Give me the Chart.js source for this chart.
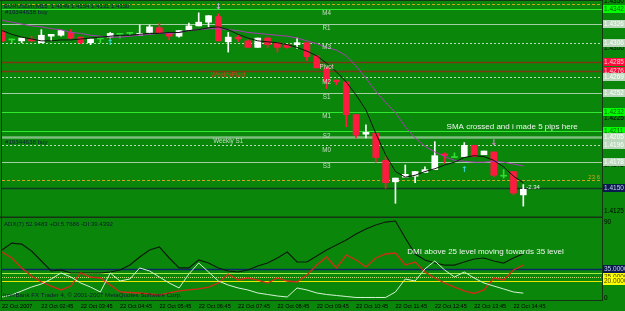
<!DOCTYPE html>
<html>
<head>
<meta charset="utf-8">
<script src="https://cdn.jsdelivr.net/npm/chart.js@4.4.1/dist/chart.umd.min.js"></script>
<style>
  html, body { margin: 0; padding: 0; background: #0a870a; }
  #wrap { position: relative; width: 625px; height: 311px; overflow: hidden; }
  #priceChart { position: absolute; left: 0; top: 0; }
  #adxChart { position: absolute; left: 0; top: 218px; }
</style>
</head>
<body>
<div id="wrap">
  <canvas id="priceChart" width="625" height="218"></canvas>
  <canvas id="adxChart" width="625" height="93"></canvas>
</div>
<script>
// EURUSDm M15, 22 Oct 2007
var Times = ['01:45','02:00','02:15','02:30','02:45','03:00','03:15','03:30','03:45','04:00',
             '04:15','04:30','04:45','05:00','05:15','05:30','05:45','06:00','06:15','06:30',
             '06:45','07:00','07:15','07:30','07:45','08:00','08:15','08:30','08:45','09:00',
             '09:15','09:30','09:45','10:00','10:15','10:30','10:45','11:00','11:15','11:30',
             '11:45','12:00','12:15','12:30','12:45','13:00','13:15','13:30','13:45','14:00',
             '14:15','14:30','14:45','15:00'];
var Day = '22 Oct';
var Year = '2007';
var FutureBars = 8;   // empty space right of the last bar

var Open  = [1.4317,1.4309,1.4308,1.4310,1.4306,1.4313,1.4314,1.4317,1.4312,1.4306,
             1.4310,1.4312,1.4315,1.4316,1.4314,1.4317,1.4322,1.4317,1.4313,1.4320,
             1.4324,1.4328,1.4334,1.4307,1.4312,1.4308,1.4301,1.4311,1.4306,1.4304,
             1.4304,1.4306,1.4292,1.4279,1.4266,1.4264,1.4229,1.4208,1.4209,1.4180,
             1.4157,1.4162,1.4163,1.4167,1.4170,1.4187,1.4183,1.4184,1.4196,1.4186,
             1.4189,1.4163,1.4168,1.4143];
var High  = [1.4320,1.4310,1.4311,1.4313,1.4320,1.4315,1.4319,1.4320,1.4312,1.4310,
             1.4310,1.4317,1.4315,1.4316,1.4325,1.4325,1.4327,1.4317,1.4319,1.4327,
             1.4338,1.4335,1.4337,1.4317,1.4314,1.4309,1.4311,1.4312,1.4306,1.4304,
             1.4311,1.4306,1.4292,1.4279,1.4266,1.4264,1.4229,1.4218,1.4209,1.4184,
             1.4161,1.4175,1.4168,1.4173,1.4200,1.4188,1.4188,1.4199,1.4196,1.4190,
             1.4189,1.4170,1.4168,1.4154];
var Low   = [1.4307,1.4306,1.4306,1.4307,1.4306,1.4308,1.4313,1.4310,1.4305,1.4304,
             1.4306,1.4311,1.4311,1.4314,1.4314,1.4316,1.4316,1.4309,1.4312,1.4320,
             1.4324,1.4323,1.4308,1.4296,1.4307,1.4301,1.4301,1.4301,1.4296,1.4300,
             1.4300,1.4287,1.4279,1.4257,1.4261,1.4216,1.4204,1.4204,1.4178,1.4150,
             1.4134,1.4162,1.4156,1.4167,1.4170,1.4177,1.4183,1.4184,1.4184,1.4186,
             1.4162,1.4161,1.4143,1.4131];
var Close = [1.4308,1.4309,1.4311,1.4308,1.4314,1.4315,1.4319,1.4311,1.4306,1.4310,
             1.4310,1.4316,1.4315,1.4316,1.4316,1.4323,1.4317,1.4313,1.4319,1.4324,
             1.4328,1.4335,1.4308,1.4312,1.4310,1.4301,1.4311,1.4304,1.4301,1.4301,
             1.4306,1.4291,1.4279,1.4264,1.4264,1.4229,1.4207,1.4210,1.4183,1.4156,
             1.4161,1.4165,1.4168,1.4170,1.4185,1.4185,1.4183,1.4196,1.4184,1.4190,
             1.4164,1.4163,1.4145,1.4149];

// moving averages (black fast, purple SMA)
var FastMA = [1.4319,1.4315,1.4312,1.4310,1.4308,1.4308,1.4309,1.4309,1.4310,1.4311,
              1.4312,1.4313,1.4314,1.4314,1.4315,1.4316,1.4316,1.4317,1.4317,1.4319,
              1.4320,1.4322,1.4323,1.4320,1.4315,1.4311,1.4308,1.4307,1.4306,1.4304,
              1.4301,1.4297,1.4292,1.4284,1.4275,1.4264,1.4250,1.4234,1.4209,1.4186,
              1.4168,1.4162,1.4164,1.4168,1.4171,1.4175,1.4178,1.4183,1.4185,1.4184,
              1.4180,1.4173,1.4163,1.4156];
var SlowSMA = [1.4330,1.4328,1.4326,1.4324,1.4323,1.4321,1.4320,1.4317,1.4316,1.4314,
               1.4313,1.4312,1.4312,1.4313,1.4314,1.4315,1.4316,1.4316,1.4317,1.4319,
               1.4320,1.4321,1.4321,1.4320,1.4319,1.4317,1.4316,1.4315,1.4314,1.4313,
               1.4311,1.4308,1.4305,1.4301,1.4298,1.4292,1.4281,1.4268,1.4254,1.4242,
               1.4231,1.4216,1.4204,1.4195,1.4189,1.4184,1.4180,1.4179,1.4178,1.4178,
               1.4179,1.4178,1.4176,1.4174];

var PriceTicks = [1.4350,1.4325,1.4300,1.4275,1.4250,1.4225,1.4200,1.4175,1.4150,1.4125];

// horizontal levels on the price chart
var LevelValues = [1.4347,1.4342,1.4326,1.4306,1.4285,1.4276,1.4269,1.4252,1.4232,1.4211,1.4205,1.4196,1.4178,1.4159,1.4150];
var LevelNames  = ['','M4','R1','M3','Pivot','WeeklyPivot','M2','S1','M1','S2','Weekly S1','M0','S3','23.6',''];
var LevelNameAt = [null,33,33,33,33,23,33,33,33,33,23,33,33,null,null];

// price tags on the right
var TagValues = [1.4342,1.4326,1.4306,1.4285,1.4276,1.4269,1.4252,1.4232,1.4211,1.4205,1.4196,1.4178,1.4150];

// notes
var NoteText  = ['SMA crossed and i made 5 pips here', '#19344638 buy', '-2.34'];
var NoteIndex = [45.2, 0.3, 53.3];
var NotePrice = [1.4216, 1.4199, 1.4151];

var ArrowIndex = [11, 47, 22, 50];
var ArrowPrice = [1.4306, 1.4170, 1.4344, 1.4199];
var ArrowGlyph = ['\u2191', '\u2191', '\u2193', '\u2193'];

// ADX(7)
var ADX = [57.4,65.7,64.5,56.2,44.2,32.3,33.5,29.9,29.9,29.9,
           29.9,31.1,33.5,39.4,49.0,57.4,61.0,47.8,35.9,35.9,
           45.4,41.8,35.9,32.3,31.1,33.5,38.2,41.8,47.8,55.0,
           43.0,43.0,50.2,57.4,63.3,69.3,76.5,82.5,87.2,90.8,
           92.0,71.7,52.6,45.4,41.8,39.4,39.4,43.0,46.6,47.8,
           44.2,41.8,47.8,52.9];
var MinusDI = [55.0,47.8,35.9,26.3,19.1,14.3,9.6,14.3,29.9,25.1,
               23.9,15.5,7.2,6.6,6.0,4.8,3.6,6.0,8.4,9.6,
               10.8,13.1,17.9,28.7,21.5,23.9,21.5,17.9,23.9,20.3,
               19.1,27.5,39.4,49.0,35.9,51.4,45.4,37.1,47.8,52.6,
               53.8,39.4,43.0,31.1,23.9,17.9,13.1,8.4,5.4,9.6,
               23.9,21.5,33.5,39.4];
var PlusDI = [1.2,3.6,8.4,13.1,16.7,22.7,29.9,25.1,17.9,13.1,
              7.2,29.9,20.3,22.7,35.9,32.3,25.1,17.9,12.0,28.7,
              41.8,31.1,20.3,15.5,12.0,9.6,6.0,4.2,2.4,1.2,
              12.0,9.6,6.0,4.2,3.0,1.8,0.6,0.6,0.6,0.6,
              7.2,22.7,20.3,34.7,44.2,33.5,25.1,31.1,23.9,17.9,
              14.3,10.8,7.2,5.8];
var AdxTicks = [0, 90];
var AdxLevels = [35, 30, 25, 20];
var AdxTagValues = [35, 25, 20];
var AdxNote = 'DMI above 25 level moving towards 35 level';
var AdxNoteIndex = 41.2;
var AdxNoteValue = 55;

// ---- styles ----
var BG = '#0a870a';
var FRAME = '#143414';
var BULL = '#ffffff', BEAR = '#ff1a40', DOJI = '#33dd33';
var FONT = '"Liberation Sans", Arial, sans-serif';
var ST = {
  orange: { color: '#d4a21c', width: 1, dash: [3, 2] },
  lime:   { color: '#30e830', width: 1, dash: [] },
  solid:  { color: '#a4cea4', width: 1, dash: [] },
  dashed: { color: '#b8dcb8', width: 1, dash: [2, 2] },
  brown:  { color: '#7a3814', width: 1.5, dash: [] },
  order:  { color: '#7cbc7c', width: 2.5, dash: [] },
  bid:    { color: '#113a22', width: 1.5, dash: [] }
};
var LevelStyles = [ST.orange, ST.lime, ST.solid, ST.dashed, ST.brown, ST.brown, ST.dashed, ST.solid,
                   ST.lime, ST.lime, ST.order, ST.dashed, ST.solid, ST.orange, ST.bid];
var LevelNameColors = ['', '#c8dcc8', '#c8dcc8', '#c8dcc8', '#f4c8c8', '#d83820', '#c8dcc8', '#c8dcc8',
                       '#c8dcc8', '#c8dcc8', '#c8dcc8', '#c8dcc8', '#c8dcc8', '#d4a21c', ''];
var TAG = {
  lime:  ['#00ff00', '#006000'],
  light: ['#bcd8bc', '#ffffff'],
  red:   ['#ff0a3c', '#ffd8d8'],
  navy:  ['#0a1a50', '#c8d0e8'],
  yellow:['#ffff00', '#404000']
};
var TagStyles = [TAG.lime, TAG.light, TAG.light, TAG.red, TAG.red, TAG.light, TAG.light,
                 TAG.lime, TAG.lime, TAG.light, TAG.light, TAG.light, TAG.navy];
var AdxLevelStyles = [
  { color: '#0c2a66', width: 1.5, dash: [] },
  { color: '#a8e848', width: 1, dash: [] },
  { color: '#d0d070', width: 1, dash: [1, 1] },
  { color: '#e8e800', width: 1, dash: [] }
];
var AdxTagStyles = [TAG.navy, TAG.yellow, TAG.yellow];
var NoteColors = ['#eef4ee', '#101a40', '#e8f0e8'];
var NoteSizes = [8, 6.2, 6];
var ArrowColors = ['#30e0e0', '#30e0e0', '#c8b0e0', '#f080e0'];

var xLabels = Times.concat(new Array(FutureBars).fill(''));
var candleColor = Open.map(function (o, i) {
  if (Close[i] > o) return BULL;
  if (Close[i] < o) return BEAR;
  return DOJI;
});
var bodies = Open.map(function (o, i) { return [Math.min(o, Close[i]), Math.max(o, Close[i])]; });
var wicks = Low.map(function (l, i) { return [l, High[i]]; });

function txt(ctx, s, x, y, color, size, align, base) {
  ctx.fillStyle = color;
  ctx.font = size + 'px ' + FONT;
  ctx.textAlign = align || 'left';
  ctx.textBaseline = base || 'middle';
  ctx.fillText(s, x, y);
}
function hline(ctx, a, py, st) {
  ctx.strokeStyle = st.color;
  ctx.lineWidth = st.width;
  ctx.setLineDash(st.dash);
  ctx.beginPath();
  ctx.moveTo(a.left, py);
  ctx.lineTo(a.right, py);
  ctx.stroke();
}
function tag(ctx, x, py, s, st) {
  var y = Math.round(py);
  ctx.fillStyle = st[0];
  ctx.fillRect(x, y - 4, 23, 8);
  txt(ctx, s, x + 1, y + 0.5, st[1], 6.5, 'left', 'middle');
}

var mainDecor = {
  id: 'mainDecor',
  beforeDraw: function (chart) {
    var c = chart.ctx;
    c.save();
    c.fillStyle = BG;
    c.fillRect(0, 0, chart.width, chart.height);
    c.restore();
  },
  beforeDatasetsDraw: function (chart) {
    var c = chart.ctx, a = chart.chartArea, ys = chart.scales.y;
    c.save();
    LevelValues.forEach(function (v, k) {
      hline(c, a, Math.round(ys.getPixelForValue(v)) + 0.5, LevelStyles[k]);
    });
    c.restore();
  },
  afterDraw: function (chart) {
    var c = chart.ctx, a = chart.chartArea, ys = chart.scales.y, xs = chart.scales.x;
    c.save();
    // level names just under their lines
    LevelValues.forEach(function (v, k) {
      var py = ys.getPixelForValue(v);
      if (LevelNameAt[k] !== null) {
        txt(c, LevelNames[k], xs.getPixelForValue(LevelNameAt[k]), py + 4.5, LevelNameColors[k], 6.3, 'center');
      } else if (LevelNames[k]) {
        txt(c, LevelNames[k], a.right - 2, py - 3, LevelNameColors[k], 6, 'right');
      }
    });
    NoteText.forEach(function (s, k) {
      txt(c, s, xs.getPixelForValue(NoteIndex[k]), ys.getPixelForValue(NotePrice[k]), NoteColors[k], NoteSizes[k]);
    });
    ArrowGlyph.forEach(function (g, k) {
      c.fillStyle = ArrowColors[k];
      c.font = 'bold 8px "DejaVu Sans"';
      c.textAlign = 'center';
      c.textBaseline = 'middle';
      c.fillText(g, xs.getPixelForValue(ArrowIndex[k]), ys.getPixelForValue(ArrowPrice[k]));
    });
    // title
    txt(c, 'EURUSDm,M15  1.4149 1.4154 1.4131 1.4150', 4, 6, '#101840', 6);
    txt(c, '#19344638 buy', 5, 12.5, '#101840', 6.2);
    // price tags
    TagValues.forEach(function (v, k) {
      tag(c, a.right + 1, ys.getPixelForValue(v), v.toFixed(4), TagStyles[k]);
    });
    // frame
    c.strokeStyle = FRAME;
    c.setLineDash([]);
    c.lineWidth = 1;
    c.beginPath();
    c.moveTo(0, 0.5); c.lineTo(a.right, 0.5);
    c.moveTo(1.5, 0); c.lineTo(1.5, chart.height);
    c.moveTo(a.right + 0.5, 0); c.lineTo(a.right + 0.5, chart.height);
    c.stroke();
    c.lineWidth = 2;
    c.beginPath();
    c.moveTo(0, chart.height - 0.5); c.lineTo(a.right + 1, chart.height - 0.5);
    c.stroke();
    c.restore();
  }
};

var priceChart = new Chart(document.getElementById('priceChart'), {
  type: 'bar',
  data: {
    labels: xLabels,
    datasets: [
      { type: 'line', data: FastMA, borderColor: '#101410', borderWidth: 1, pointRadius: 0, tension: 0, fill: false, order: 0 },
      { type: 'line', data: SlowSMA, borderColor: '#a83cb4', borderWidth: 1, pointRadius: 0, tension: 0, fill: false, order: 0 },
      { data: bodies, backgroundColor: candleColor, barThickness: 6, minBarLength: 1, grouped: false, order: 1 },
      { data: wicks, backgroundColor: candleColor, barThickness: 1, grouped: false, order: 2 }
    ]
  },
  options: {
    responsive: false,
    animation: false,
    layout: { padding: { left: 2, top: 1, right: 0, bottom: 1 } },
    plugins: { legend: { display: false }, tooltip: { enabled: false } },
    scales: {
      x: { type: 'category', offset: false, display: false },
      y: {
        position: 'right',
        min: 1.41193,
        max: 1.43507,
        afterBuildTicks: function (s) { s.ticks = PriceTicks.map(function (v) { return { value: v }; }); },
        afterFit: function (s) { s.width = 23; s.paddingTop = 0; s.paddingBottom = 0; },
        grid: { display: false, drawTicks: false },
        border: { display: false },
        ticks: {
          padding: 2,
          color: '#000000',
          font: { family: 'Liberation Sans', size: 6.5 },
          callback: function (v) { return Number(v).toFixed(4); }
        }
      }
    }
  },
  plugins: [mainDecor]
});

var adxDecor = {
  id: 'adxDecor',
  beforeDraw: function (chart) {
    var c = chart.ctx;
    c.save();
    c.fillStyle = BG;
    c.fillRect(0, 0, chart.width, chart.height);
    c.restore();
  },
  beforeDatasetsDraw: function (chart) {
    var c = chart.ctx, a = chart.chartArea, ys = chart.scales.y;
    c.save();
    AdxLevels.forEach(function (v, k) {
      hline(c, a, Math.round(ys.getPixelForValue(v)) + 0.5, AdxLevelStyles[k]);
    });
    c.restore();
  },
  afterDraw: function (chart) {
    var c = chart.ctx, a = chart.chartArea, ys = chart.scales.y, xs = chart.scales.x;
    c.save();
    txt(c, AdxNote, xs.getPixelForValue(AdxNoteIndex), ys.getPixelForValue(AdxNoteValue), '#eef4ee', 8);
    txt(c, 'ADX(7) 52.9483 +DI:5.7686 -DI:39.4392', 4, 6, '#101a30', 6.1);
    txt(c, 'InterBank FX Trader 4, \u00a9 2001-2007 MetaQuotes Software Corp.', 3, a.bottom - 4.5, '#101a30', 6.2);
    AdxTagValues.forEach(function (v, k) {
      tag(c, a.right + 1, ys.getPixelForValue(v), v.toFixed(4), AdxTagStyles[k]);
    });
    c.strokeStyle = FRAME;
    c.setLineDash([]);
    c.lineWidth = 1;
    c.beginPath();
    c.moveTo(1.5, 0); c.lineTo(1.5, a.bottom);
    c.moveTo(a.right + 0.5, 0); c.lineTo(a.right + 0.5, a.bottom);
    c.moveTo(0, a.bottom + 0.5); c.lineTo(a.right + 1, a.bottom + 0.5);
    c.stroke();
    c.restore();
  }
};

var adxChart = new Chart(document.getElementById('adxChart'), {
  type: 'line',
  data: {
    labels: xLabels,
    datasets: [
      { data: PlusDI, borderColor: '#d4f2d4', borderWidth: 1, pointRadius: 0, tension: 0, fill: false },
      { data: MinusDI, borderColor: '#d42a1a', borderWidth: 1.3, pointRadius: 0, tension: 0, fill: false },
      { data: ADX, borderColor: '#0c1c0c', borderWidth: 1.2, pointRadius: 0, tension: 0, fill: false }
    ]
  },
  options: {
    responsive: false,
    animation: false,
    layout: { padding: { left: 2, top: 1, right: 0, bottom: 0 } },
    plugins: { legend: { display: false }, tooltip: { enabled: false } },
    scales: {
      x: {
        type: 'category',
        offset: false,
        grid: { display: false, drawTicks: false },
        border: { display: false },
        afterFit: function (s) { s.height = 11; s.paddingLeft = 0; s.paddingRight = 0; },
        ticks: {
          autoSkip: false,
          maxRotation: 0,
          minRotation: 0,
          align: 'start',
          padding: 3,
          color: '#000000',
          font: { family: 'Liberation Sans', size: 5.6 },
          callback: function (v, i) {
            if (i >= Times.length || i % 4 !== 0) return '';
            return i === 0 ? Day + ' ' + Year : Day + ' ' + Times[i];
          }
        }
      },
      y: {
        position: 'right',
        min: -2.39,
        max: 94.42,
        afterBuildTicks: function (s) { s.ticks = AdxTicks.map(function (v) { return { value: v }; }); },
        afterFit: function (s) { s.width = 23; s.paddingTop = 0; s.paddingBottom = 0; },
        grid: { display: false, drawTicks: false },
        border: { display: false },
        ticks: { padding: 2, color: '#000000', font: { family: 'Liberation Sans', size: 6.5 } }
      }
    }
  },
  plugins: [adxDecor]
});
</script>
</body>
</html>
